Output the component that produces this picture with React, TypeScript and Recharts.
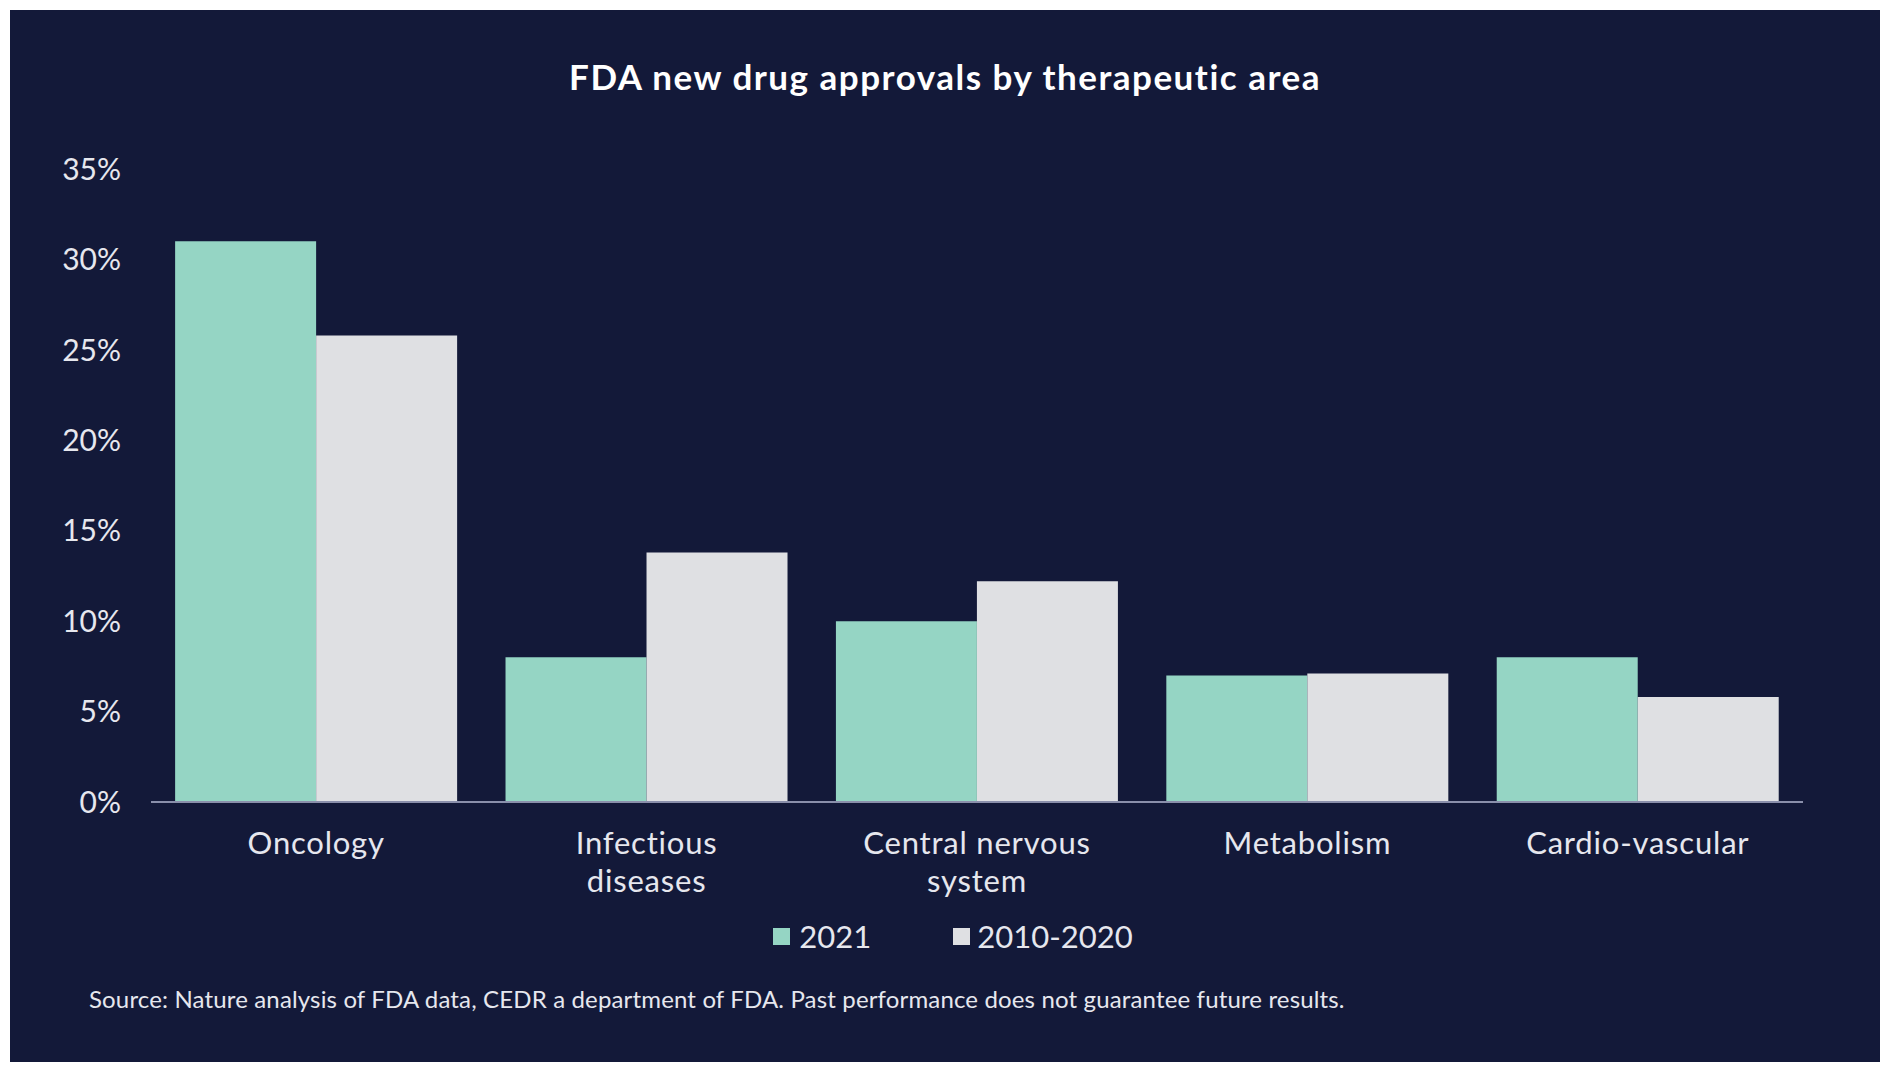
import React from 'react';
import { BarChart, Bar, XAxis, YAxis } from 'recharts';

const categories = ['Oncology', 'Infectious diseases', 'Central nervous system', 'Metabolism', 'Cardio-vascular'];
const tickLines: string[][] = [['Oncology'], ['Infectious', 'diseases'], ['Central nervous', 'system'], ['Metabolism'], ['Cardio-vascular']];
const values2021 = [31, 8, 10, 7, 8];
const values2010_2020 = [25.8, 13.8, 12.2, 7.1, 5.8];
const yTicks = [0, 5, 10, 15, 20, 25, 30, 35];
const seriesNames = ['2021', '2010-2020'];

const data = categories.map((c, i) => ({ name: c, lines: tickLines[i], a: values2021[i], b: values2010_2020[i] }));

const BG = '#131939';
const TEAL = '#95d5c4';
const GRAY = '#dfe0e3';
const TEXT = '#e6e7ee';
const FONT = 'Lato, "Noto Sans", sans-serif';

const XTick = (props: any) => {
  const { x, y, index } = props;
  const lines = tickLines[index] || [props.payload.value];
  return (
    <g>
      {lines.map((l, i) => (
        <text key={i} x={x} y={y} dy={32 + i * 38} textAnchor="middle" dominantBaseline="central" fill={TEXT} fontSize={31} letterSpacing={0.8} fontFamily={FONT}>
          {l}
        </text>
      ))}
    </g>
  );
};

export default function App() {
  return (
    <div style={{ position: 'absolute', left: 0, top: 0, width: 1892, height: 1072, background: '#ffffff' }}>
      <div style={{ position: 'absolute', left: 10, top: 10, width: 1870, height: 1052, background: BG, fontFamily: FONT }}>
        <div style={{ position: 'absolute', left: 0, top: 46, width: 1870, textAlign: 'center', color: '#ffffff', fontSize: 35, fontWeight: 700, letterSpacing: 1.5, lineHeight: '40px' }}>
          FDA new drug approvals by therapeutic area
        </div>
        <div style={{ position: 'absolute', left: 0, top: 0 }}>
          <BarChart width={1870} height={1052} data={data} margin={{ top: 159, right: 77, bottom: 0, left: 0 }} barCategoryGap="7.3%" barGap={0}>
            <YAxis
              domain={[0, 35]}
              ticks={yTicks}
              width={141}
              axisLine={false}
              tickLine={false}
              tickMargin={24}
              tickFormatter={(v: number) => `${v}%`}
              tick={{ fill: TEXT, fontSize: 30, fontFamily: FONT }}
              interval={0}
            />
            <XAxis
              dataKey="name"
              height={260}
              axisLine={{ stroke: '#8a8fab', strokeWidth: 2 }}
              tickLine={false}
              interval={0}
              tick={<XTick />}
            />
            <Bar dataKey="a" name={seriesNames[0]} fill={TEAL} isAnimationActive={false} />
            <Bar dataKey="b" name={seriesNames[1]} fill={GRAY} isAnimationActive={false} />
          </BarChart>
        </div>
        <div style={{ position: 'absolute', left: 0, top: 906, width: 1870, display: 'flex', justifyContent: 'center', alignItems: 'center', color: TEXT, fontSize: 31, lineHeight: '40px' }}>
          <span style={{ display: 'inline-block', width: 17, height: 17, background: TEAL, marginRight: 9, marginLeft: 16 }} />
          <span style={{ marginRight: 82 }}>{seriesNames[0]}</span>
          <span style={{ display: 'inline-block', width: 17, height: 17, background: GRAY, marginRight: 7 }} />
          <span>{seriesNames[1]}</span>
        </div>
        <div style={{ position: 'absolute', left: 79, top: 975, color: TEXT, fontSize: 24, letterSpacing: 0.15, lineHeight: '28px', whiteSpace: 'nowrap' }}>
          Source: Nature analysis of FDA data, CEDR a department of FDA. Past performance does not guarantee future results.
        </div>
      </div>
    </div>
  );
}
